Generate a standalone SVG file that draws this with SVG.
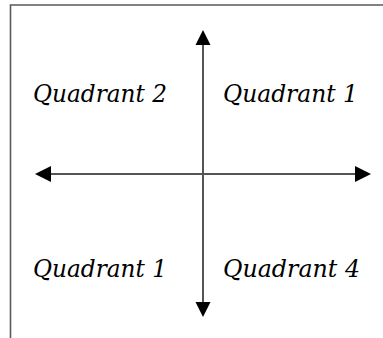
<svg xmlns="http://www.w3.org/2000/svg" width="383" height="338" viewBox="0 0 383 338">
<style>
.frame{fill:none;stroke:#5a5a5a;stroke-width:1.6}
.axis{stroke:#555;stroke-width:2;fill:none}
.head{fill:#000}
.lbl{font-family:"DejaVu Serif","Liberation Serif",serif;font-style:italic;font-size:24px;fill:#000}
</style>
<rect width="383" height="338" fill="#fff"/>
<g id="frame">
<polyline class="frame" points="10.5,338 10.5,5 383,5"/>
</g>
<g id="connectors">
<line class="axis" x1="203" y1="44" x2="203" y2="303"/>
<line class="axis" x1="50" y1="174" x2="356" y2="174"/>
<polygon class="head" points="203,30 195.5,45 210.5,45"/>
<polygon class="head" points="203,317 195.5,302 210.5,302"/>
<polygon class="head" points="35,174 51,166 51,182"/>
<polygon class="head" points="371,174 355,166 355,182"/>
</g>
<g id="q2"><text class="lbl" x="33" y="102" textLength="134" lengthAdjust="spacingAndGlyphs">Quadrant 2</text></g>
<g id="q1"><text class="lbl" x="223" y="102" textLength="135" lengthAdjust="spacingAndGlyphs">Quadrant 1</text></g>
<g id="q3"><text class="lbl" x="33" y="277" textLength="134" lengthAdjust="spacingAndGlyphs">Quadrant 1</text></g>
<g id="q4"><text class="lbl" x="223" y="277" textLength="137" lengthAdjust="spacingAndGlyphs">Quadrant 4</text></g>
</svg>
